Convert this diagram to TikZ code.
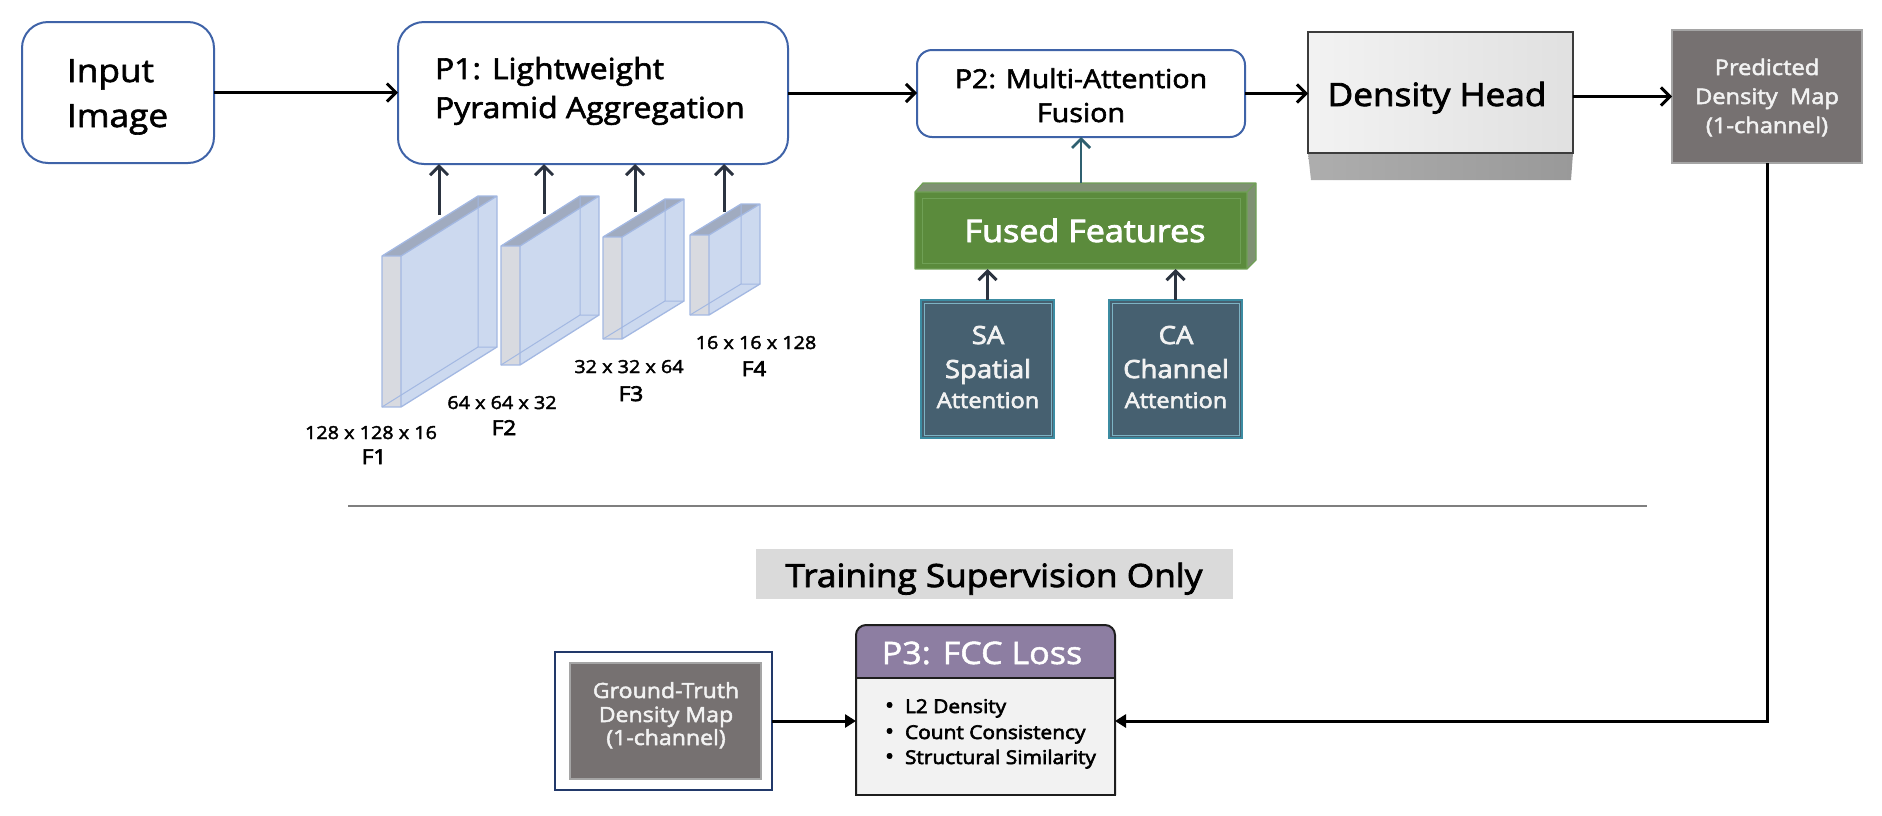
\documentclass[tikz,border=0pt]{standalone}
\usepackage{fontspec}
\setmainfont{Open Sans}[FakeStretch=1.1]
\usetikzlibrary{arrows.meta}
\definecolor{boxblue}{HTML}{3F63A8}
\definecolor{arrdark}{HTML}{2B3340}
\definecolor{tealarrow}{HTML}{2F6070}
\definecolor{predgray}{HTML}{767171}
\definecolor{predborder}{HTML}{A5A5A5}
\definecolor{gtborder}{HTML}{22396A}
\definecolor{hdrpurple}{HTML}{8D7EA2}
\definecolor{pbody}{HTML}{F2F2F2}
\definecolor{pline}{HTML}{1E1E1E}
\definecolor{trainbg}{HTML}{DADADA}
\definecolor{gfront}{HTML}{5B8B3C}
\definecolor{gside}{HTML}{7F9173}
\definecolor{gedge}{HTML}{6FA055}
\definecolor{safill}{HTML}{466070}
\definecolor{saborder}{HTML}{3C8CA2}
\definecolor{sainner}{HTML}{7DB3C4}
\definecolor{slabfrontc}{HTML}{D8DAE0}
\definecolor{slabtopc}{HTML}{A0ABC0}
\definecolor{slabrightc}{HTML}{CCD9EF}
\definecolor{slabedgec}{HTML}{A3B8E2}
\definecolor{divider}{HTML}{7F7F7F}
\definecolor{dhborder}{HTML}{3C3C3C}
\definecolor{lighttext}{HTML}{F2F2F2}
\newcommand{\fs}[2]{\fontsize{#1}{#2}\selectfont}
\newcommand{\drawslab}[5]{%
  \fill[slabrightc] (#1+19,#2) -- (#1+19+#4,#2-#5) -- (#1+19+#4,#3-#5) -- (#1+19,#3) -- cycle;
  \fill[slabtopc] (#1,#2) -- (#1+#4,#2-#5) -- (#1+19+#4,#2-#5) -- (#1+19,#2) -- cycle;
  \fill[slabfrontc] (#1,#2) rectangle (#1+19,#3);
  \draw[slabedgec, line width=1pt] (#1+#4,#2-#5) -- (#1+#4,#3-#5) -- (#1+19+#4,#3-#5) (#1+#4,#3-#5) -- (#1,#3);
  \draw[slabedgec, line width=1.3pt, line join=round] (#1,#2) rectangle (#1+19,#3)
     (#1,#2) -- (#1+#4,#2-#5) -- (#1+19+#4,#2-#5) -- (#1+19+#4,#3-#5) -- (#1+19,#3)
     (#1+19,#2) -- (#1+19+#4,#2-#5);
}
\begin{document}
\begin{tikzpicture}[x=1pt,y=-1pt,
  every node/.style={inner sep=0pt, outer sep=0pt},
  mw/.style={execute at begin node={\special{pdf:literal direct 2 Tr #1 w}},
             execute at end node={\special{pdf:literal direct 0 Tr}}},
  rbox/.style={draw=boxblue, line width=2pt, fill=white, rounded corners=#1, anchor=north west},
  plainbox/.style={anchor=north west},
  txtl/.style={anchor=base west, text=black, mw=0.6},
  txtc/.style={anchor=base, text=black, mw=0.6},
  wtxt/.style={anchor=base, text=lighttext, mw=0.5},
  arr/.style={draw=black, line width=3pt, -{Straight Barb[length=9pt,width=18pt]}},
  uparr/.style={draw=arrdark, line width=3pt, -{Straight Barb[length=9pt,width=18pt]}},
  tealarr/.style={draw=tealarrow, line width=2.8pt, -{Straight Barb[length=9pt,width=18pt]}},
  tarr/.style={draw=black, line width=3pt, -{Triangle[length=11pt,width=13pt]}},
  dimlabel/.style={anchor=base, text=black, font=\fs{18}{22}, mw=0.4},
  flabel/.style={anchor=base, text=black, font=\fs{20.5}{24}, mw=0.7},
]
\useasboundingbox (0,0) rectangle (1882,815);

% ---------- Input Image ----------
\node[rbox=26pt, minimum width=192pt, minimum height=141pt] (inp) at (22,22) {};
\node[txtl, font=\fs{32}{38}] (inpa) at (67,82) {Input};
\node[txtl, font=\fs{32}{38}] (inpb) at (67,127) {Image};

% ---------- P1 ----------
\node[rbox=26pt, minimum width=390pt, minimum height=142pt] (P1) at (398,22) {};
\node[txtl, font=\fs{29}{36}] (p1a) at (435,79) {P1: Lightweight};
\node[txtl, font=\fs{29}{36}] (p1b) at (435,118) {Pyramid Aggregation};

% ---------- P2 ----------
\node[rbox=15pt, minimum width=328pt, minimum height=87pt] (P2) at (917,50) {};
\node[txtc, font=\fs{26}{32}] (p2a) at (1081,88) {P2: Multi-Attention};
\node[txtc, font=\fs{26}{32}] (p2b) at (1081,122) {Fusion};

% ---------- Density Head ----------
\shade[left color=black!32, right color=black!40] (1308,153) -- (1573,153) -- (1571,180) -- (1311,180) -- cycle;
\node[plainbox, draw=dhborder, line width=1.8pt, left color=black!5, right color=black!12,
      minimum width=265pt, minimum height=121pt] (DH) at (1308,32) {};
\node[txtc, font=\fs{32}{38}, mw=0.8] (dht) at (1437,106) {Density Head};

% ---------- Predicted Density Map ----------
\node[plainbox, fill=predgray, draw=predborder, line width=1.2pt,
      minimum width=190pt, minimum height=133pt] (pred) at (1672,30) {};
\node[wtxt, font=\fs{21.5}{28}] (preda) at (1767,75) {Predicted};
\node[wtxt, font=\fs{21.5}{28}] (predb) at (1767,104) {Density\ \ Map};
\node[wtxt, font=\fs{21.5}{28}] (predc) at (1767,133) {(1-channel)};

% ---------- top row arrows ----------
\draw[arr] (inp.east) -- (inp.east -| P1.west);
\draw[arr] (P1.east) -- (P1.east -| P2.west);
\draw[arr] (P2.east) -- (P2.east -| DH.west);
\draw[arr] (DH.east |- pred.west) -- (pred.west);

% ---------- feature slabs ----------
\drawslab{382}{256}{407}{96}{60}
\drawslab{501}{246}{365}{79}{50}
\drawslab{603}{237}{339}{62}{38}
\drawslab{690}{235}{315}{51}{31}
\coordinate (c1) at (439,215);
\coordinate (c2) at (544,214);
\coordinate (c3) at (635,212);
\coordinate (c4) at (724,212);
\draw[uparr] (c1) -- (c1 |- P1.south);
\draw[uparr] (c2) -- (c2 |- P1.south);
\draw[uparr] (c3) -- (c3 |- P1.south);
\draw[uparr] (c4) -- (c4 |- P1.south);

\node[dimlabel] (d1) at (371,439) {128 x 128 x 16};
\node[flabel] (f1) at (374,464) {F1};
\node[dimlabel] (d2) at (502,409) {64 x 64 x 32};
\node[flabel] (f2) at (504,435) {F2};
\node[dimlabel] (d3) at (629,373) {32 x 32 x 64};
\node[flabel] (f3) at (631,401) {F3};
\node[dimlabel] (d4) at (756,349) {16 x 16 x 128};
\node[flabel] (f4) at (754,376) {F4};

% ---------- Fused Features ----------
\fill[gside] (915,192) -- (923,183) -- (1256,183) -- (1247,192) -- cycle;
\fill[gside] (1247,192) -- (1256,183) -- (1256,260) -- (1247,269) -- cycle;
\node[plainbox, fill=gfront, minimum width=332pt, minimum height=77pt] (FF) at (915,192) {};
\draw[gedge, line width=0.8pt] (922,198) rectangle (1240,263);
\draw[gedge, line width=1.3pt, line join=round] (915,192) -- (923,183) -- (1256,183) -- (1256,260) -- (1247,269) -- (915,269) -- cycle
   (1247,192) -- (1256,183) (915,192) -- (1247,192) -- (1247,269);
\node[anchor=base, text=white, font=\fs{31}{36}, mw=0.8] (fft) at (1085,242) {Fused Features};
\draw[tealarr] ([yshift=9pt]FF.north) -- (P2.south);

% ---------- SA / CA ----------
\node[plainbox, fill=safill, draw=saborder, line width=1.6pt, minimum width=133pt, minimum height=138pt] (SA) at (921,300) {};
\draw[sainner, line width=0.7pt] (924,303) rectangle (1051,435);
\node[plainbox, fill=safill, draw=saborder, line width=1.6pt, minimum width=133pt, minimum height=138pt] (CA) at (1109,300) {};
\draw[sainner, line width=0.7pt] (1112,303) rectangle (1239,435);
\node[wtxt, font=\fs{25}{30}, mw=0.7] (saa) at (988,344) {SA};
\node[wtxt, font=\fs{25}{30}, mw=0.7] (sab) at (988,378) {Spatial};
\node[wtxt, font=\fs{21.5}{26}, mw=0.6] (sac) at (988,408) {Attention};
\node[wtxt, font=\fs{25}{30}, mw=0.7] (caa) at (1176,344) {CA};
\node[wtxt, font=\fs{25}{30}, mw=0.7] (cab) at (1176,378) {Channel};
\node[wtxt, font=\fs{21.5}{26}, mw=0.6] (cac) at (1176,408) {Attention};
\draw[uparr] (SA.north) -- (SA.north |- FF.south);
\draw[uparr] (CA.north) -- (CA.north |- FF.south);

% ---------- divider ----------
\draw[divider, line width=2pt] (348,506) -- (1647,506);

% ---------- Training Supervision Only ----------
\node[plainbox, fill=trainbg, minimum width=477pt, minimum height=50pt] (train) at (756,549) {};
\node[txtc, font=\fs{32}{38}, mw=0.8] (traint) at (994,587) {Training Supervision Only};

% ---------- P3: FCC Loss ----------
\node[plainbox, minimum width=259pt, minimum height=170pt] (P3) at (856,625) {};
\fill[pbody] (856,660) rectangle (1115,795);
\fill[hdrpurple, rounded corners=10pt] (856,625) rectangle (1115,678);
\fill[hdrpurple] (856,660) rectangle (1115,678);
\draw[pline, line width=1.8pt] (856,678) -- (1115,678);
\draw[pline, line width=2pt, rounded corners=10pt] (P3.south west) -- (P3.north west) -- (P3.north east) -- (P3.south east);
\draw[pline, line width=2pt, line cap=rect] (P3.south west) -- (P3.south east);
\node[anchor=base, text=white, font=\fs{31}{36}, mw=0.5] (p3t) at (982,664) {P3: FCC Loss};
\node[txtl, font=\fs{19}{24}, mw=0.6] (b1) at (885,713) {\makebox[20pt][l]{\fs{22}{24}•}L2 Density};
\node[txtl, font=\fs{19}{24}, mw=0.6] (b2) at (885,739) {\makebox[20pt][l]{\fs{22}{24}•}Count Consistency};
\node[txtl, font=\fs{19}{24}, mw=0.6] (b3) at (885,764) {\makebox[20pt][l]{\fs{22}{24}•}Structural Similarity};

% ---------- Ground truth ----------
\node[plainbox, fill=white, draw=gtborder, line width=2pt, minimum width=217pt, minimum height=138pt] (GTo) at (555,652) {};
\node[plainbox, fill=predgray, draw=predborder, line width=1.5pt, minimum width=191pt, minimum height=116pt] (GTi) at (570,663) {};
\node[wtxt, font=\fs{21}{26}] (gta) at (666,698) {Ground-Truth};
\node[wtxt, font=\fs{21}{26}] (gtb) at (666,722) {Density Map};
\node[wtxt, font=\fs{21}{26}] (gtc) at (666,745) {(1-channel)};

% ---------- loss arrows ----------
\draw[tarr] (GTo.east) -- (GTo.east -| P3.west);
\draw[tarr] (pred.south) |- (GTo.east -| P3.east);
\end{tikzpicture}
\end{document}
